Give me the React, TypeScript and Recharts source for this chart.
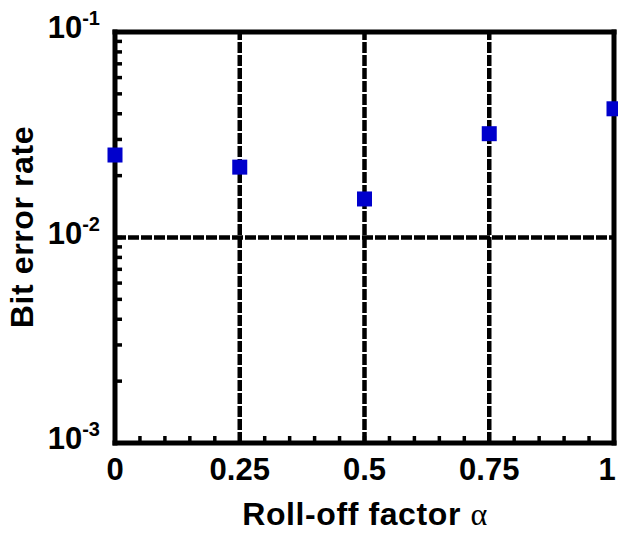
import { ScatterChart, Scatter, XAxis, YAxis, ReferenceLine } from 'recharts';

const alpha = [0, 0.25, 0.5, 0.75, 1];
const ber = [0.0252, 0.022, 0.0154, 0.032, 0.0423];

const xTicks = [0, 0.05, 0.1, 0.15, 0.2, 0.25, 0.3, 0.35, 0.4, 0.45, 0.5, 0.55, 0.6, 0.65, 0.7, 0.75, 0.8, 0.85, 0.9, 0.95, 1];
const xMajor = [0, 0.25, 0.5, 0.75, 1];
const yTicks = [
  0.001, 0.002, 0.003, 0.004, 0.005, 0.006, 0.007, 0.008, 0.009,
  0.01, 0.02, 0.03, 0.04, 0.05, 0.06, 0.07, 0.08, 0.09, 0.1,
];
const yMajor = [0.001, 0.01, 0.1];

const data = alpha.map((a, i) => ({ alpha: a, ber: ber[i] }));

const FONT = '"Liberation Sans", Arial, sans-serif';
const frame = { stroke: '#000', strokeWidth: 5, strokeLinecap: 'square' as const };

const BottomTick = (props: any) => {
  const { x, y, payload } = props;
  const v = payload.value;
  // keep the "1" at the right edge inside the picture
  const lx = v === 1 ? x - 7 : x;
  return (
    <g>
      <line x1={x} x2={x} y1={y} y2={y - 7} stroke="#000" strokeWidth={3.5} />
      {xMajor.includes(v) && (
        <text x={lx} y={y + 37} textAnchor="middle" fontFamily={FONT} fontWeight="bold" fontSize={31} fill="#000">
          {String(v)}
        </text>
      )}
    </g>
  );
};

const TopTick = (props: any) => {
  const { x, y } = props;
  return <line x1={x} x2={x} y1={y} y2={y + 7} stroke="#000" strokeWidth={3.5} />;
};

const LeftTick = (props: any) => {
  const { x, y, payload } = props;
  const v = payload.value;
  const exp = Math.round(Math.log10(v));
  return (
    <g>
      <line x1={x} x2={x + 7} y1={y} y2={y} stroke="#000" strokeWidth={3.5} />
      {yMajor.includes(v) && (
        <text x={x - 15} y={y + 6} textAnchor="end" fontFamily={FONT} fontWeight="bold" fontSize={31} fill="#000">
          <tspan>10</tspan>
          <tspan dy={-13} fontSize={20}>{String(exp)}</tspan>
        </text>
      )}
    </g>
  );
};

const RightTick = (props: any) => {
  const { x, y } = props;
  return <line x1={x} x2={x - 7} y1={y} y2={y} stroke="#000" strokeWidth={3.5} />;
};

const Square = (props: any) => {
  const { cx, cy } = props;
  return <rect x={cx - 7.5} y={cy - 7.5} width={15} height={15} fill="#0000CC" />;
};

const XLabel = () => (
  <text
    x={365}
    y={525}
    textAnchor="middle"
    fontFamily={FONT}
    fontWeight="bold"
    fontSize={32}
    letterSpacing={0.6}
    fill="#000"
  >
    Roll-off factor <tspan fontFamily='"Liberation Serif", serif' fontWeight="normal">α</tspan>
  </text>
);

const YLabel = () => (
  <text
    x={0}
    y={0}
    transform="translate(33, 227) rotate(-90)"
    textAnchor="middle"
    fontFamily={FONT}
    fontWeight="bold"
    fontSize={32}
    letterSpacing={0.6}
    fill="#000"
  >
    Bit error rate
  </text>
);

export default function App() {
  return (
    <div style={{ position: 'absolute', left: 0, top: 0, background: '#fff' }}>
      <ScatterChart width={618} height={533} margin={{ top: 0, right: 0, bottom: 0, left: 0 }}>
        <XAxis
          dataKey="alpha"
          type="number"
          domain={[0, 1]}
          ticks={xTicks}
          interval={0}
          height={90}
          tickSize={0}
          tickMargin={0}
          tickLine={false}
          axisLine={frame}
          tick={BottomTick}
          label={{ content: XLabel }}
        />
        <XAxis
          xAxisId="top"
          orientation="top"
          type="number"
          domain={[0, 1]}
          ticks={xTicks}
          interval={0}
          height={32}
          tickSize={0}
          tickMargin={0}
          tickLine={false}
          axisLine={frame}
          tick={TopTick}
        />
        <YAxis
          dataKey="ber"
          type="number"
          scale="log"
          domain={[0.001, 0.1]}
          ticks={yTicks}
          interval={0}
          width={115}
          tickSize={0}
          tickMargin={0}
          tickLine={false}
          axisLine={frame}
          tick={LeftTick}
          label={{ content: YLabel }}
        />
        <YAxis
          yAxisId="right"
          orientation="right"
          type="number"
          scale="log"
          domain={[0.001, 0.1]}
          ticks={yTicks}
          interval={0}
          width={4}
          tickSize={0}
          tickMargin={0}
          tickLine={false}
          axisLine={frame}
          tick={RightTick}
        />
        {[0.25, 0.5, 0.75].map((v) => (
          <ReferenceLine key={v} x={v} stroke="#000" strokeWidth={4.5} strokeDasharray="11 2" />
        ))}
        <ReferenceLine y={0.01} stroke="#000" strokeWidth={4.5} strokeDasharray="11 2" />
        <Scatter data={data} shape={Square} isAnimationActive={false} />
      </ScatterChart>
    </div>
  );
}
